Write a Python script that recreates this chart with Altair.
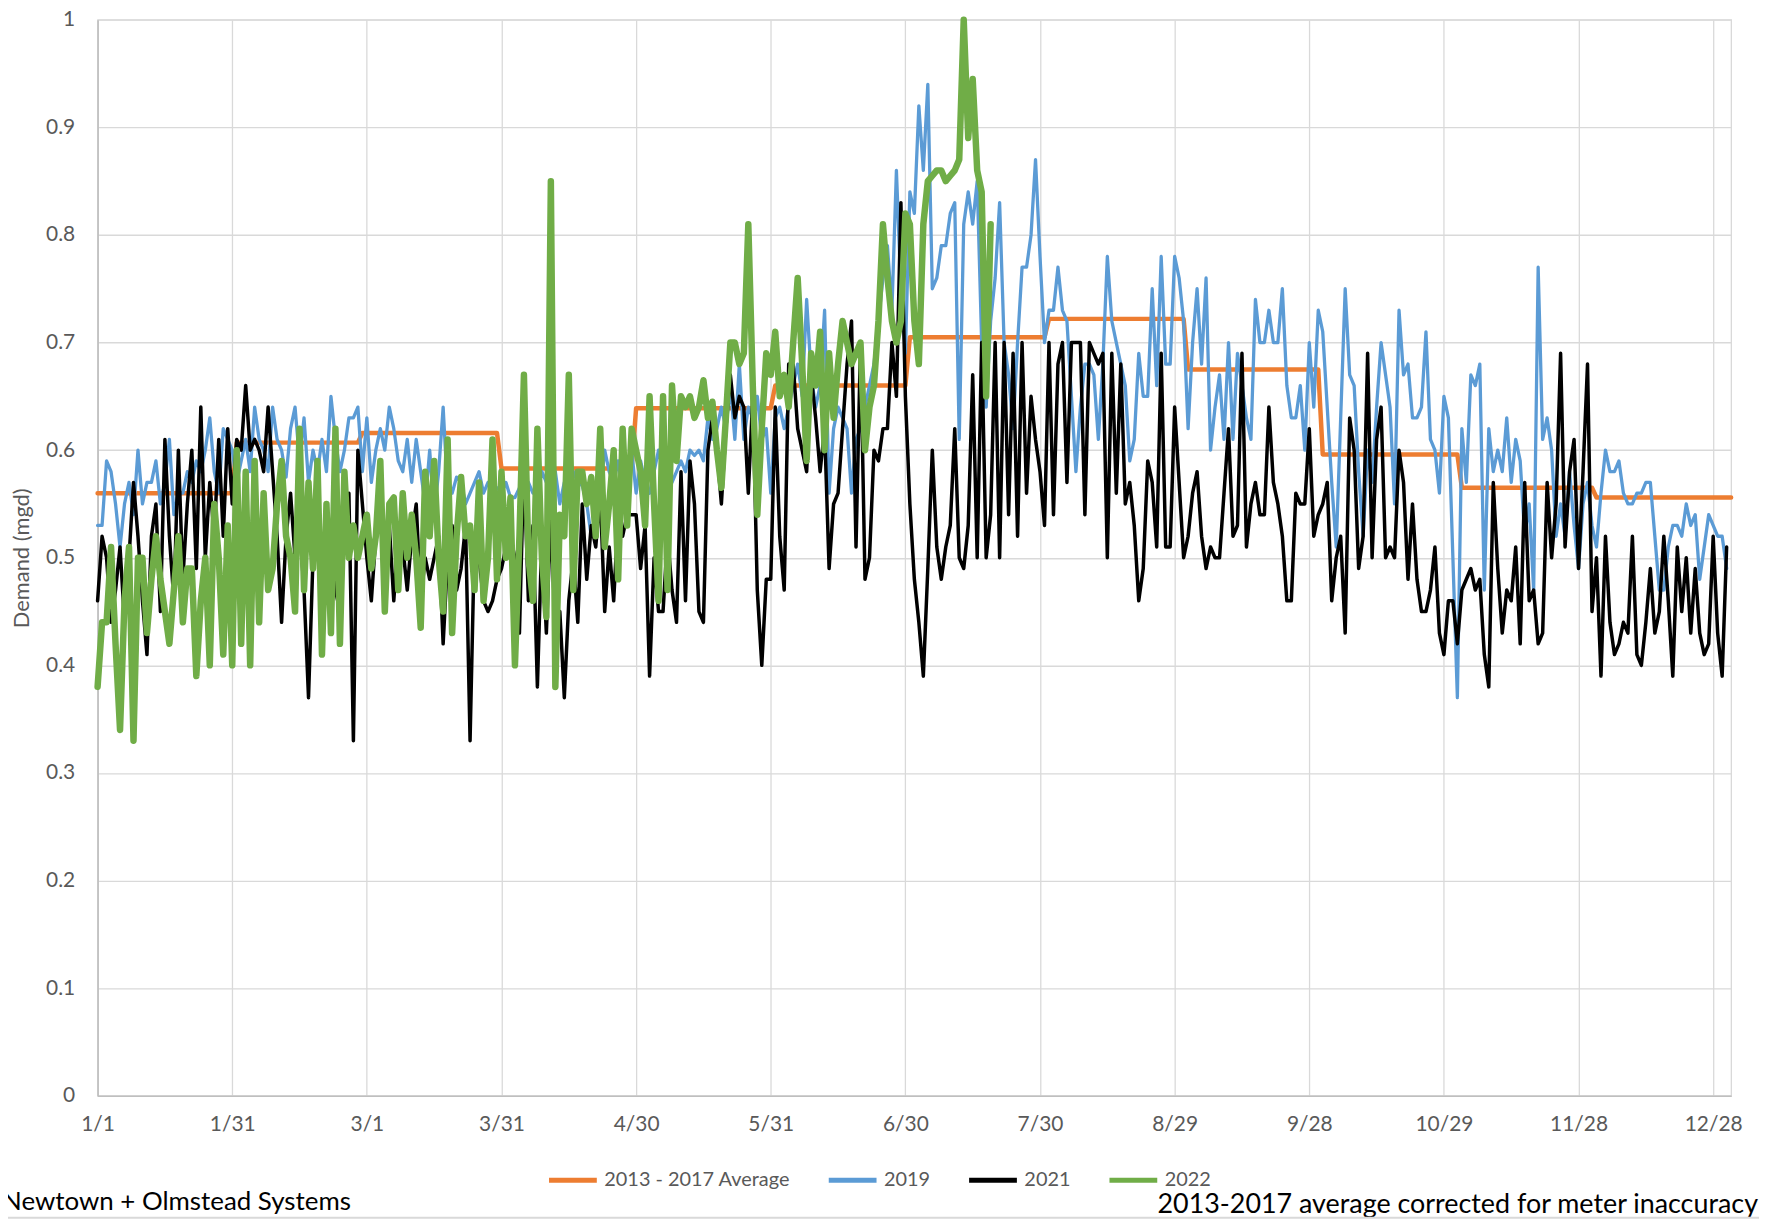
import json
import altair as alt
import pandas as pd

# ---------------- data ----------------
X_LABELS = ["1/1", "1/31", "3/1", "3/31", "4/30", "5/31", "6/30",
            "7/30", "8/29", "9/28", "10/29", "11/28", "12/28"]
SERIES = ["2013 - 2017 Average", "2019", "2021", "2022"]
COLORS = ["#ED7D31", "#5B9BD5", "#000000", "#70AD47"]
WIDTHS = [4.5, 3.3, 3.5, 6.5]

MONTH_DAYS = [31, 28, 31, 30, 31, 30, 31, 31, 30, 31, 30, 31]
AVG_2013_2017 = [0.560, 0.607, 0.616, 0.583, 0.639, 0.660,
                 0.705, 0.722, 0.675, 0.596, 0.565, 0.556]

DEMAND_2019 = [
    0.53, 0.53, 0.59, 0.58, 0.55, 0.51, 0.55, 0.57, 0.54, 0.60,
    0.55, 0.57, 0.57, 0.59, 0.55, 0.57, 0.61, 0.54, 0.56, 0.56,
    0.58, 0.57, 0.59, 0.58, 0.60, 0.63, 0.58, 0.56, 0.62, 0.61,
    0.60, 0.57, 0.59, 0.61, 0.58, 0.64, 0.61, 0.60, 0.58, 0.64,
    0.61, 0.60, 0.575, 0.62, 0.64, 0.59, 0.63, 0.57, 0.60, 0.58,
    0.61, 0.58, 0.65, 0.61, 0.58, 0.60, 0.63, 0.63, 0.64, 0.58,
    0.63, 0.57, 0.60, 0.62, 0.60, 0.64, 0.62, 0.59, 0.58, 0.61,
    0.57, 0.61, 0.58, 0.55, 0.60, 0.54, 0.58, 0.64, 0.56, 0.56,
    0.575, 0.57, 0.55, 0.56, 0.57, 0.58, 0.56, 0.57, 0.56, 0.565,
    0.56, 0.57, 0.556, 0.556, 0.565, 0.55, 0.57, 0.56, 0.56, 0.58,
    0.57, 0.56, 0.58, 0.55, 0.57, 0.56, 0.58, 0.57, 0.567, 0.55,
    0.52, 0.53, 0.56, 0.60, 0.58, 0.57, 0.59, 0.56, 0.58, 0.60,
    0.56, 0.59, 0.57, 0.56, 0.58, 0.60, 0.58, 0.59, 0.57, 0.58,
    0.59, 0.58, 0.60, 0.595, 0.60, 0.59, 0.63, 0.61, 0.62, 0.64,
    0.62, 0.66, 0.61, 0.68, 0.61, 0.64, 0.63, 0.65, 0.61, 0.62,
    0.56, 0.63, 0.64, 0.62, 0.64, 0.66, 0.68, 0.65, 0.74, 0.67,
    0.64, 0.66, 0.73, 0.56, 0.62, 0.64, 0.63, 0.62, 0.56, 0.61,
    0.62, 0.64, 0.66, 0.68, 0.72, 0.76, 0.79, 0.73, 0.86, 0.75,
    0.69, 0.84, 0.82, 0.92, 0.86, 0.94, 0.75, 0.76, 0.79, 0.79,
    0.82, 0.83, 0.61, 0.81, 0.84, 0.81, 0.85, 0.70, 0.64, 0.72,
    0.76, 0.83, 0.70, 0.67, 0.62, 0.70, 0.77, 0.77, 0.80, 0.87,
    0.78, 0.70, 0.73, 0.73, 0.77, 0.73, 0.72, 0.65, 0.58, 0.64,
    0.68, 0.68, 0.67, 0.61, 0.68, 0.78, 0.72, 0.70, 0.68, 0.66,
    0.59, 0.61, 0.69, 0.65, 0.65, 0.75, 0.66, 0.78, 0.68, 0.68,
    0.78, 0.76, 0.72, 0.62, 0.70, 0.75, 0.68, 0.76, 0.60, 0.64,
    0.67, 0.61, 0.70, 0.61, 0.69, 0.66, 0.63, 0.61, 0.74, 0.70,
    0.70, 0.73, 0.70, 0.70, 0.75, 0.66, 0.63, 0.63, 0.66, 0.60,
    0.70, 0.64, 0.73, 0.71, 0.64, 0.57, 0.51, 0.63, 0.75, 0.67,
    0.66, 0.58, 0.52, 0.60, 0.57, 0.64, 0.70, 0.67, 0.64, 0.55,
    0.73, 0.67, 0.68, 0.63, 0.63, 0.64, 0.71, 0.61, 0.60, 0.56,
    0.65, 0.63, 0.50, 0.37, 0.62, 0.57, 0.67, 0.66, 0.68, 0.47,
    0.62, 0.58, 0.60, 0.58, 0.63, 0.57, 0.61, 0.59, 0.52, 0.55,
    0.47, 0.77, 0.61, 0.63, 0.60, 0.52, 0.55, 0.52, 0.58, 0.53,
    0.49, 0.55, 0.57, 0.53, 0.51, 0.56, 0.60, 0.58, 0.58, 0.59,
    0.56, 0.55, 0.55, 0.56, 0.56, 0.57, 0.57, 0.52, 0.47, 0.47,
    0.51, 0.53, 0.53, 0.52, 0.55, 0.53, 0.54, 0.48, 0.51, 0.54,
    0.53, 0.52, 0.52, 0.49,
]

DEMAND_2021 = [
    0.46, 0.52, 0.50, 0.44, 0.47, 0.51, 0.44, 0.50, 0.57, 0.52,
    0.46, 0.41, 0.52, 0.55, 0.45, 0.61, 0.52, 0.46, 0.60, 0.48,
    0.55, 0.60, 0.49, 0.64, 0.50, 0.57, 0.52, 0.61, 0.52, 0.62,
    0.55, 0.61, 0.60, 0.66, 0.60, 0.61, 0.60, 0.58, 0.64, 0.58,
    0.52, 0.44, 0.52, 0.56, 0.50, 0.53, 0.47, 0.37, 0.50, 0.55,
    0.46, 0.53, 0.50, 0.47, 0.45, 0.52, 0.56, 0.33, 0.60, 0.55,
    0.50, 0.46, 0.52, 0.55, 0.50, 0.53, 0.46, 0.52, 0.51, 0.47,
    0.52, 0.55, 0.46, 0.50, 0.48, 0.50, 0.52, 0.42, 0.50, 0.53,
    0.47, 0.49, 0.53, 0.33, 0.52, 0.50, 0.46, 0.45, 0.46, 0.48,
    0.49, 0.51, 0.52, 0.50, 0.43, 0.59, 0.46, 0.53, 0.38, 0.52,
    0.43, 0.54, 0.43, 0.45, 0.37, 0.46, 0.50, 0.44, 0.55, 0.48,
    0.53, 0.51, 0.56, 0.45, 0.51, 0.46, 0.54, 0.52, 0.54, 0.54,
    0.54, 0.49, 0.53, 0.39, 0.50, 0.45, 0.45, 0.52, 0.47, 0.44,
    0.58, 0.46, 0.59, 0.55, 0.45, 0.44, 0.60, 0.63, 0.60, 0.55,
    0.62, 0.67, 0.63, 0.65, 0.64, 0.56, 0.65, 0.47, 0.40, 0.48,
    0.48, 0.64, 0.52, 0.47, 0.68, 0.68, 0.62, 0.60, 0.58, 0.67,
    0.63, 0.58, 0.62, 0.49, 0.55, 0.56, 0.62, 0.68, 0.72, 0.51,
    0.70, 0.48, 0.50, 0.60, 0.59, 0.62, 0.62, 0.70, 0.65, 0.83,
    0.65, 0.55, 0.48, 0.44, 0.39, 0.49, 0.60, 0.51, 0.48, 0.51,
    0.53, 0.62, 0.50, 0.49, 0.53, 0.67, 0.50, 0.70, 0.50, 0.54,
    0.70, 0.50, 0.70, 0.54, 0.69, 0.52, 0.70, 0.56, 0.65, 0.61,
    0.58, 0.53, 0.70, 0.54, 0.68, 0.70, 0.57, 0.70, 0.70, 0.70,
    0.54, 0.70, 0.69, 0.68, 0.69, 0.50, 0.69, 0.56, 0.68, 0.55,
    0.57, 0.53, 0.46, 0.49, 0.59, 0.57, 0.51, 0.69, 0.51, 0.51,
    0.64, 0.57, 0.50, 0.52, 0.56, 0.58, 0.52, 0.49, 0.51, 0.50,
    0.50, 0.56, 0.62, 0.52, 0.53, 0.69, 0.51, 0.55, 0.57, 0.54,
    0.54, 0.64, 0.57, 0.55, 0.52, 0.46, 0.46, 0.56, 0.55, 0.55,
    0.62, 0.52, 0.54, 0.55, 0.57, 0.46, 0.50, 0.52, 0.43, 0.63,
    0.60, 0.49, 0.52, 0.69, 0.50, 0.61, 0.64, 0.50, 0.51, 0.50,
    0.60, 0.57, 0.48, 0.55, 0.48, 0.45, 0.45, 0.47, 0.51, 0.43,
    0.41, 0.46, 0.46, 0.42, 0.47, 0.48, 0.49, 0.47, 0.48, 0.41,
    0.38, 0.57, 0.49, 0.43, 0.47, 0.46, 0.51, 0.42, 0.57, 0.46,
    0.47, 0.42, 0.43, 0.57, 0.50, 0.55, 0.69, 0.51, 0.58, 0.61,
    0.49, 0.58, 0.68, 0.45, 0.50, 0.39, 0.52, 0.44, 0.41, 0.42,
    0.44, 0.43, 0.52, 0.41, 0.40, 0.44, 0.49, 0.43, 0.45, 0.52,
    0.46, 0.39, 0.51, 0.45, 0.50, 0.43, 0.49, 0.43, 0.41, 0.42,
    0.52, 0.43, 0.39, 0.51,
]

DEMAND_2022 = [
    0.38, 0.44, 0.44, 0.51, 0.42, 0.34, 0.46, 0.51, 0.33, 0.50,
    0.50, 0.43, 0.48, 0.52, 0.48, 0.45, 0.42, 0.47, 0.52, 0.44,
    0.49, 0.49, 0.39, 0.46, 0.50, 0.40, 0.55, 0.50, 0.41, 0.53,
    0.40, 0.60, 0.42, 0.58, 0.40, 0.59, 0.44, 0.56, 0.47, 0.49,
    0.55, 0.59, 0.52, 0.50, 0.45, 0.62, 0.47, 0.57, 0.49, 0.59,
    0.41, 0.55, 0.43, 0.62, 0.42, 0.58, 0.50, 0.53, 0.50, 0.52,
    0.54, 0.49, 0.52, 0.59, 0.45, 0.55, 0.556, 0.47, 0.56, 0.50,
    0.54, 0.50, 0.435, 0.58, 0.52, 0.59, 0.50, 0.45, 0.61, 0.43,
    0.52, 0.575, 0.52, 0.53, 0.47, 0.57, 0.46, 0.50, 0.61, 0.48,
    0.58, 0.50, 0.556, 0.40, 0.52, 0.67, 0.50, 0.46, 0.62, 0.50,
    0.445, 0.85, 0.38, 0.54, 0.52, 0.67, 0.47, 0.58, 0.58, 0.55,
    0.575, 0.52, 0.62, 0.51, 0.55, 0.60, 0.48, 0.62, 0.53, 0.62,
    0.60, 0.58, 0.53, 0.65, 0.55, 0.46, 0.65, 0.47, 0.66, 0.59,
    0.65, 0.64, 0.65, 0.63, 0.64, 0.665, 0.63, 0.645, 0.60, 0.565,
    0.63, 0.70, 0.70, 0.68, 0.69, 0.81, 0.66, 0.54, 0.62, 0.69,
    0.67, 0.71, 0.65, 0.67, 0.64, 0.70, 0.76, 0.68, 0.59, 0.69,
    0.66, 0.71, 0.60, 0.69, 0.63, 0.68, 0.72, 0.70, 0.68, 0.69,
    0.70, 0.60, 0.64, 0.66, 0.72, 0.81, 0.76, 0.72, 0.70, 0.72,
    0.82, 0.81, 0.72, 0.68, 0.81, 0.85, 0.855, 0.86, 0.86, 0.85,
    0.855, 0.86, 0.87, 1.00, 0.89, 0.945, 0.86, 0.84, 0.65, 0.81,
]

Y_TICKS = [0, 0.1, 0.2, 0.3, 0.4, 0.5, 0.6, 0.7, 0.8, 0.9, 1]
Y_TITLE = "Demand (mgd)"
FOOTER_LEFT = "Newtown + Olmstead Systems"
FOOTER_RIGHT = "2013-2017 average corrected for meter inaccuracy"

# ---------------- build the long table ----------------
rows = []
day = 0
for n, v in zip(MONTH_DAYS, AVG_2013_2017):
    for _ in range(n):
        rows.append({"day": day, "value": v, "series": SERIES[0]})
        day += 1
for name, vals in zip(SERIES[1:], [DEMAND_2019, DEMAND_2021, DEMAND_2022]):
    for i, v in enumerate(vals):
        rows.append({"day": i, "value": v, "series": name})
df = pd.DataFrame(rows)

W, H = 1641, 1081
FONT = "Lato"
GRID = "#D9D9D9"
TXT = "#595959"

label_expr = json.dumps(X_LABELS) + "[round(datum.value / 30)]"

x_enc = alt.X(
    "day:Q",
    scale=alt.Scale(domain=[0, 364], nice=False, zero=False),
    axis=alt.Axis(
        values=list(range(0, 361, 30)), labelExpr=label_expr, title=None,
        grid=True, gridColor=GRID, gridWidth=1.3,
        domainColor="#BFBFBF", domainWidth=1.6, ticks=False,
        labelPadding=18, labelFontSize=21, labelColor=TXT, labelFont=FONT,
        labelAngle=0, labelFlush=False, labelOverlap=False,
    ),
)
y_enc = alt.Y(
    "value:Q",
    scale=alt.Scale(domain=[0, 1], nice=False),
    axis=alt.Axis(
        values=Y_TICKS, format="~g", title=Y_TITLE,
        grid=True, gridColor=GRID, gridWidth=1.3,
        domainColor="#BFBFBF", domainWidth=1.6, ticks=False,
        labelPadding=23, labelFontSize=21, labelColor=TXT, labelFont=FONT,
        labelFlush=False,
        titleFont=FONT, titleFontSize=22, titleColor=TXT, titleFontWeight="normal",
        titleX=-76, titleY=H / 2, titleAngle=-90, titleAlign="center",
        titleBaseline="middle",
    ),
)

legend = alt.Legend(
    orient="none", legendX=451, legendY=1139, direction="horizontal",
    title=None, symbolType="stroke", symbolSize=2304, symbolStrokeWidth=5,
    labelFont=FONT, labelFontSize=20, labelColor=TXT, labelLimit=0,
    columnPadding=28, labelOffset=5,
)
color_enc = alt.Color("series:N", scale=alt.Scale(domain=SERIES, range=COLORS), legend=legend)

layers = []
for s, w in zip(SERIES, WIDTHS):
    layers.append(
        alt.Chart(df)
        .transform_filter(alt.datum.series == s)
        .mark_line(strokeJoin="round", strokeCap="round", strokeWidth=w)
        .encode(x=x_enc, y=y_enc, color=color_enc)
    )

foot_left = alt.Chart(pd.DataFrame({"t": [FOOTER_LEFT]})).mark_text(
    align="left", baseline="alphabetic", font=FONT, fontSize=26, color="#000000"
).encode(text="t:N", x=alt.value(-96), y=alt.value(1196))

foot_right = alt.Chart(pd.DataFrame({"t": [FOOTER_RIGHT]})).mark_text(
    align="right", baseline="alphabetic", font=FONT, fontSize=27, color="#000000"
).encode(text="t:N", x=alt.value(1668), y=alt.value(1199))

bottom_line = alt.Chart(pd.DataFrame({"t": [0]})).mark_rule(
    color=GRID, strokeWidth=2
).encode(x=alt.value(-90), x2=alt.value(1669), y=alt.value(1203.5))

chart = (
    alt.layer(*layers, foot_left, foot_right, bottom_line)
    .properties(
        width=W, height=H,
        autosize=alt.AutoSizeParams(type="none"),
        padding={"left": 90, "top": 9, "right": 28, "bottom": 124},
        background="#FFFFFF",
    )
    .configure(font=FONT)
    .configure_view(stroke=GRID, strokeWidth=1.3)
)

chart.save("out.html", embed_options={"renderer": "svg", "actions": False})
